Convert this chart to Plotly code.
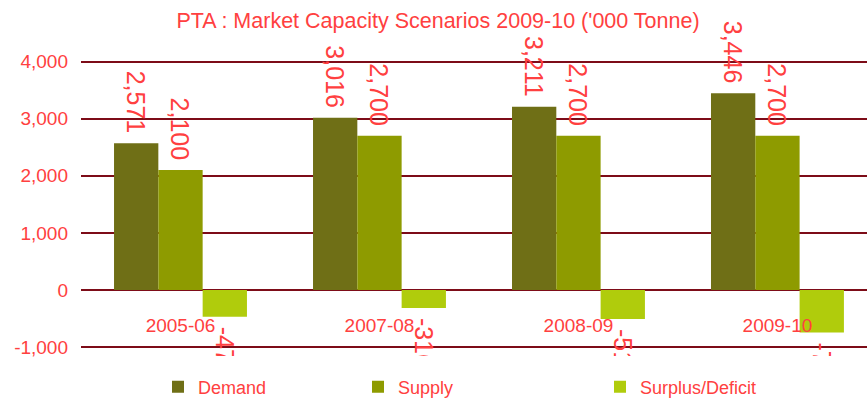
import plotly.graph_objects as go

categories = ["2005-06", "2007-08", "2008-09", "2009-10"]
demand = [2571, 3016, 3211, 3446]
supply = [2100, 2700, 2700, 2700]
surplus = [-471, -316, -511, -746]
series_names = ["Demand", "Supply", "Surplus/Deficit"]
y_ticks = [-1000, 0, 1000, 2000, 3000, 4000]
y_tick_labels = ["-1,000", "0", "1,000", "2,000", "3,000", "4,000"]

colors = ["#6f6f16", "#8e9b00", "#b0cc0c"]
red = "#ff4040"
grid = "#7d0c18"
font = "Liberation Sans, Arial, sans-serif"

legend_x = [158, 358, 600]

fig = go.Figure()
for i, (name, vals) in enumerate(zip(series_names, [demand, supply, surplus])):
    fig.add_trace(go.Bar(
        x=categories, y=vals, name=name,
        marker=dict(color=colors[i], line=dict(width=0)),
        texttemplate="\u00a0%{y:,}\u00a0", textposition="outside", textangle=90,
        constraintext="none", cliponaxis=True,
        textfont=dict(family=font, size=25, color=red),
        legend="legend" if i == 0 else f"legend{i+1}",
    ))

leg_common = dict(orientation="h", xref="container", yref="container",
                  y=1 - 387 / 405, yanchor="middle", xanchor="left",
                  font=dict(family=font, size=18, color=red),
                  bgcolor="rgba(0,0,0,0)", itemwidth=30)

fig.update_layout(
    width=867, height=405,
    margin=dict(l=81, r=0, t=16, b=49, autoexpand=False),
    paper_bgcolor="white", plot_bgcolor="white",
    barmode="group", bargap=0.332, bargroupgap=0,
    title=dict(text="PTA : Market Capacity Scenarios 2009-10 ('000 Tonne)",
               x=438 / 867, xanchor="center", y=1 - 20 / 405, yanchor="middle",
               yref="container", xref="container", automargin=False,
               font=dict(family=font, size=21.5, color=red)),
    xaxis=dict(type="category", range=[-0.5, 3.45], showgrid=False,
               showline=False, ticks="", anchor="free", position=0.13,
               automargin=False,
               tickfont=dict(family=font, size=19, color=red)),
    yaxis=dict(range=[-1158, 4800], tickvals=y_ticks, ticktext=y_tick_labels,
               showgrid=True, gridcolor=grid, gridwidth=2,
               zeroline=True, zerolinecolor=grid, zerolinewidth=2,
               showline=False, ticks="", ticklabelstandoff=12, automargin=False,
               tickfont=dict(family=font, size=19, color=red)),
    legend=dict(x=legend_x[0] / 867, **leg_common),
    legend2=dict(x=legend_x[1] / 867, **leg_common),
    legend3=dict(x=legend_x[2] / 867, **leg_common),
    showlegend=True,
)

fig.write_html("out.html", config={"displayModeBar": False},
               post_script="document.body.style.margin='0';")
